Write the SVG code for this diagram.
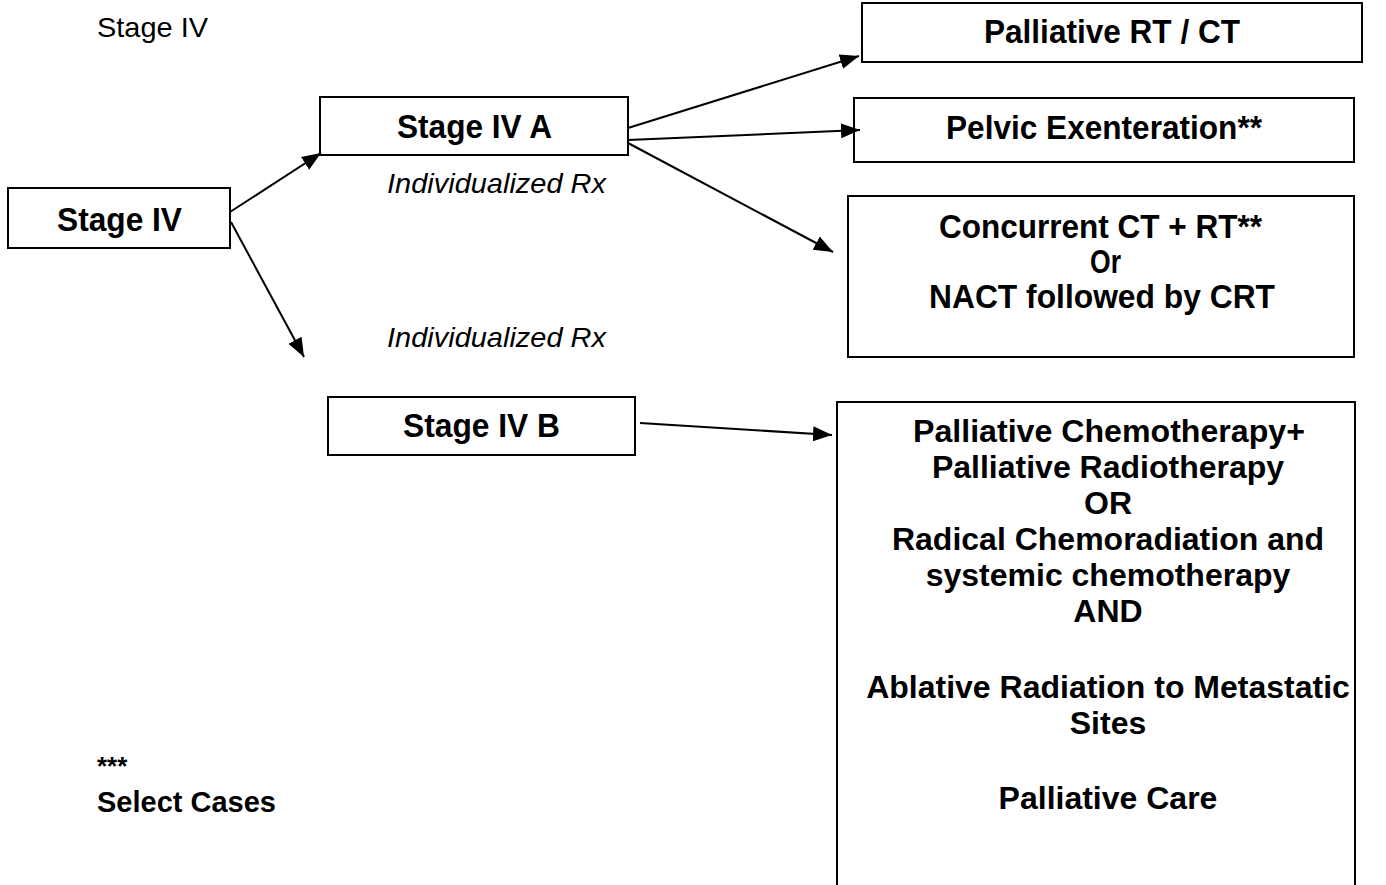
<svg xmlns="http://www.w3.org/2000/svg" width="1386" height="885" viewBox="0 0 1386 885">
<defs>
<marker id="ah" markerUnits="userSpaceOnUse" markerWidth="22" markerHeight="16" refX="19" refY="7.5" orient="auto">
<path d="M0,0 L19,7.5 L0,15 z" fill="#000"/>
</marker>
<style>
.box{fill:#fff;stroke:#000;stroke-width:2}
.t{font-family:"Liberation Sans",Arial,sans-serif;font-weight:bold;fill:#000;text-anchor:middle}
.n{font-size:33px}
.w{font-size:32px}
.i{font-family:"Liberation Sans",Arial,sans-serif;font-style:italic;font-size:28px;fill:#000}
.c{stroke:#000;stroke-width:2;fill:none;marker-end:url(#ah)}
</style>
</defs>
<rect width="1386" height="885" fill="#fff"/>
<text x="97" y="37" font-family="Liberation Sans,Arial,sans-serif" font-size="28" textLength="111" lengthAdjust="spacingAndGlyphs">Stage IV</text>
<g id="stage4">
<rect class="box" x="8" y="188" width="222" height="60"/>
<text class="t n" x="119.5" y="231" textLength="125" lengthAdjust="spacingAndGlyphs">Stage IV</text>
</g>
<g id="stage4a">
<rect class="box" x="320" y="97" width="308" height="58"/>
<text class="t n" x="474.5" y="138" textLength="155" lengthAdjust="spacingAndGlyphs">Stage IV A</text>
</g>
<text class="i" x="387" y="193" textLength="219" lengthAdjust="spacingAndGlyphs">Individualized Rx</text>
<text class="i" x="387" y="347" textLength="219" lengthAdjust="spacingAndGlyphs">Individualized Rx</text>
<g id="stage4b">
<rect class="box" x="328" y="397" width="307" height="58"/>
<text class="t n" x="481.5" y="437" textLength="157" lengthAdjust="spacingAndGlyphs">Stage IV B</text>
</g>
<g id="palliative-rtct">
<rect class="box" x="862" y="3" width="500" height="59"/>
<text class="t n" x="1112" y="43" textLength="256" lengthAdjust="spacingAndGlyphs">Palliative RT / CT</text>
</g>
<g id="pelvic">
<rect class="box" x="854" y="98" width="500" height="64"/>
<text class="t n" x="1104" y="139" textLength="316" lengthAdjust="spacingAndGlyphs">Pelvic Exenteration**</text>
</g>
<g id="concurrent">
<rect class="box" x="848" y="196" width="506" height="161"/>
<text class="t n" x="1100.5" y="238" textLength="323" lengthAdjust="spacingAndGlyphs">Concurrent CT + RT**</text>
<text class="t n" x="1105.5" y="273" textLength="31" lengthAdjust="spacingAndGlyphs">Or</text>
<text class="t n" x="1102" y="308" textLength="346" lengthAdjust="spacingAndGlyphs">NACT followed by CRT</text>
</g>
<g id="stage4b-options">
<rect class="box" x="837" y="402" width="518" height="500"/>
<text class="t w" x="1109" y="442" textLength="392" lengthAdjust="spacingAndGlyphs">Palliative Chemotherapy+</text>
<text class="t w" x="1108" y="478">Palliative Radiotherapy</text>
<text class="t w" x="1108" y="514">OR</text>
<text class="t w" x="1108" y="550">Radical Chemoradiation and</text>
<text class="t w" x="1108" y="586">systemic chemotherapy</text>
<text class="t w" x="1108" y="622">AND</text>
<text class="t w" x="1108" y="698">Ablative Radiation to Metastatic</text>
<text class="t w" x="1108" y="734">Sites</text>
<text class="t w" x="1108" y="809">Palliative Care</text>
</g>
<text x="97" y="775" font-family="Liberation Sans,Arial,sans-serif" font-weight="bold" font-size="26">***</text>
<text x="97" y="812" font-family="Liberation Sans,Arial,sans-serif" font-weight="bold" font-size="29" textLength="179" lengthAdjust="spacingAndGlyphs">Select Cases</text>
<g id="connectors">
<line class="c" x1="230" y1="212" x2="321" y2="153"/>
<line class="c" x1="231" y1="222" x2="304" y2="357"/>
<line class="c" x1="628" y1="128" x2="859" y2="56"/>
<line class="c" x1="628" y1="140" x2="860" y2="130"/>
<line class="c" x1="628" y1="143" x2="833" y2="252"/>
<line class="c" x1="640" y1="423" x2="832" y2="435"/>
</g>
</svg>
